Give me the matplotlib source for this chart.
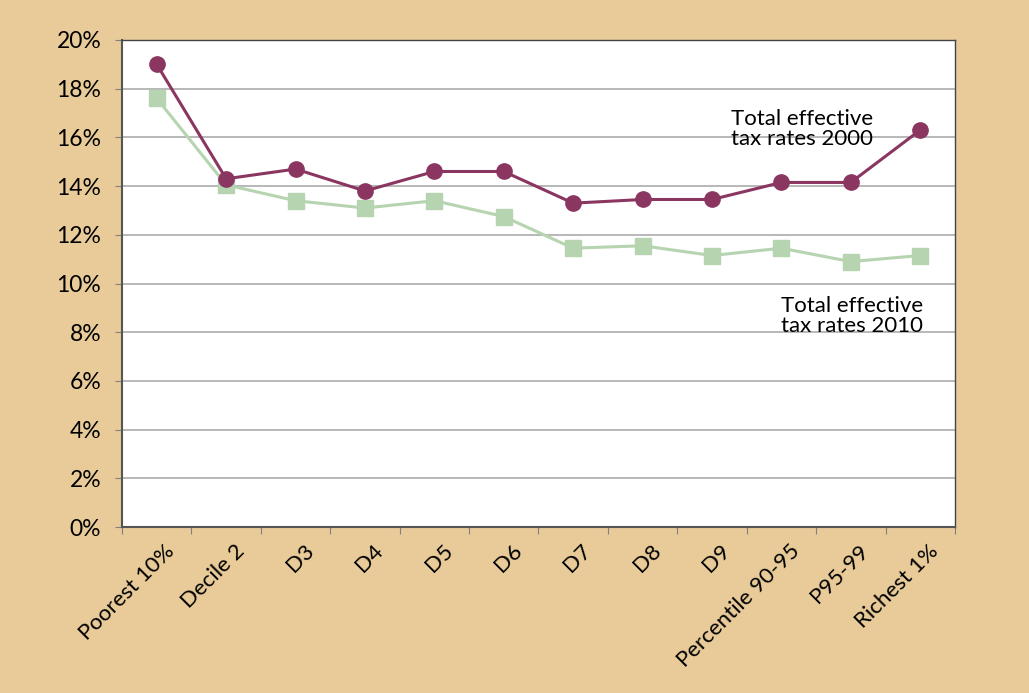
import matplotlib.pyplot as plt
import matplotlib.transforms as mtransforms
import numpy as np
from matplotlib.ticker import FixedLocator, PercentFormatter

categories = ['Poorest 10%', 'Decile 2', 'D3', 'D4', 'D5', 'D6', 'D7', 'D8',
              'D9', 'Percentile 90-95', 'P95-99', 'Richest 1%']
rates_2000 = [19.0, 14.3, 14.7, 13.8, 14.6, 14.6, 13.3, 13.45, 13.45, 14.15, 14.15, 16.3]
rates_2010 = [17.6, 14.05, 13.4, 13.1, 13.4, 12.75, 11.45, 11.55, 11.15, 11.45, 10.9, 11.15]

plt.rcParams['font.family'] = ['Lato', 'DejaVu Sans']

bg = '#e8cb98'
purple = '#8b3561'
green = '#b6d4b0'

fig = plt.figure(figsize=(10.29, 6.93), dpi=100, facecolor=bg)
ax = fig.add_axes([0.1186, 0.2395, 0.8094, 0.7028])
ax.set_facecolor('white')

x = np.arange(len(categories))
ax.plot(x, rates_2010, color=green, lw=2.2, marker='s', ms=11, zorder=3)
ax.plot(x, rates_2000, color=purple, lw=2.2, marker='o', ms=11, zorder=4)

ax.set_xlim(-0.5, len(categories) - 0.5)
ax.set_ylim(0, 20)
ax.set_yticks(np.arange(0, 21, 2))
ax.yaxis.set_major_formatter(PercentFormatter(decimals=0))
ax.grid(axis='y', color='#ababab', lw=1.2)
ax.set_axisbelow(True)

# ticks between categories, labels at centres
ax.xaxis.set_major_locator(FixedLocator(np.arange(-0.5, len(categories), 1)))
ax.set_xticklabels([])
ax.set_xticks(x, minor=True)
ax.set_xticklabels(categories, minor=True, rotation=45, ha='right',
                   rotation_mode='anchor', fontsize=16)
ax.tick_params(axis='x', which='minor', length=0, pad=10)
ax.tick_params(axis='x', which='major', length=5, color='#808080')
ax.tick_params(axis='y', length=5, color='#808080', labelsize=16.5, pad=10)

# nudge rotated labels a little to the right, like the original
shift = mtransforms.ScaledTranslation(8 / 100, 0, fig.dpi_scale_trans)
for lab in ax.get_xticklabels(minor=True):
    lab.set_transform(lab.get_transform() + shift)

for side in ['left', 'bottom']:
    ax.spines[side].set_color('#555555')
    ax.spines[side].set_linewidth(1.5)
for side in ['top', 'right']:
    ax.spines[side].set_color('#444444')
    ax.spines[side].set_linewidth(1.0)

ax.text(9.3, 16.35, 'Total effective\ntax rates 2000', ha='center', va='center',
        fontsize=16, linespacing=1.0)
ax.text(10.02, 8.65, 'Total effective\ntax rates 2010', ha='center', va='center',
        fontsize=16, linespacing=1.0)

fig.savefig('out.png', dpi=100, facecolor=bg)
